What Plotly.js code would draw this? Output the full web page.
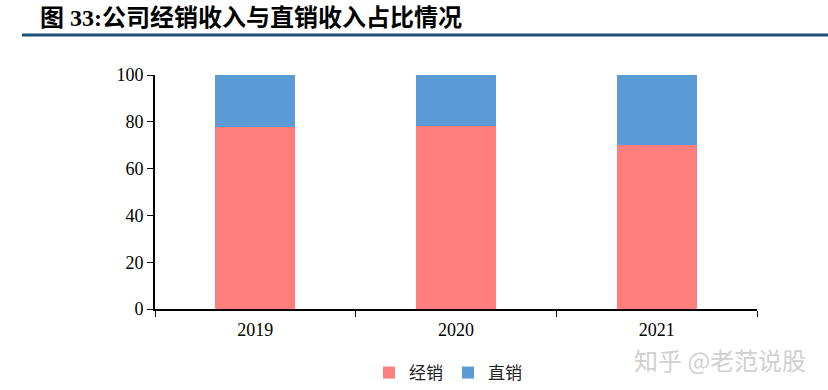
<!DOCTYPE html>
<html><head><meta charset="utf-8">
<script src="https://cdn.plot.ly/plotly-3.0.1.min.js"></script>
<style>body{margin:0;background:#fff}#c{width:828px;height:390px}</style>
</head><body><div id="c"></div>
<script>
const years = ['2019', '2020', '2021'];
const distributor = [77.7, 78.0, 70.0];
const direct = [22.3, 22.0, 30.0];
const seriesNames = ['经销', '直销'];
const yTicks = [0, 20, 40, 60, 80, 100];

const L = 155, R = 757, T = 75, B = 309;
const px = x => (x - L) / (R - L);
const py = y => (B - y) / (B - T);

const traces = [
  {type: 'bar', x: years, y: distributor, name: seriesNames[0], marker: {color: '#FF7F7F'}},
  {type: 'bar', x: years, y: direct, name: seriesNames[1], marker: {color: '#5B9BD5'}}
];
const layout = {
  width: 828, height: 390,
  margin: {l: L, r: 828 - R, t: T, b: 390 - B, autoexpand: false},
  barmode: 'stack', bargap: 0.6,
  paper_bgcolor: '#fff', plot_bgcolor: '#fff',
  font: {family: 'Liberation Serif, Noto Sans CJK SC', color: '#000', size: 17},
  title: {text: '<b>图 33:公司经销收入与直销收入占比情况</b>', xref: 'container', yref: 'container',
          x: 40/828, xanchor: 'left', y: 1 - 18/390, yanchor: 'middle',
          font: {family: 'Liberation Serif, Noto Sans CJK SC', size: 24, color: '#000'}},
  xaxis: {type: 'category', tickson: 'boundaries', ticks: 'outside', ticklen: 6, tickcolor: '#000',
          showline: true, linecolor: '#000', linewidth: 2, showgrid: false, zeroline: false,
          ticklabelstandoff: 3, tickfont: {family: 'Liberation Serif', size: 18}},
  yaxis: {range: [0, 100], tickvals: yTicks, ticks: 'outside', ticklen: 6, tickcolor: '#000',
          showline: true, linecolor: '#000', linewidth: 2, showgrid: false, zeroline: false,
          tickfont: {family: 'Liberation Serif', size: 18}},
  showlegend: true,
  legend: {orientation: 'h', x: px(448), xanchor: 'center', xref: 'paper', yref: 'container', y: 1 - 373/390, yanchor: 'middle',
           font: {family: 'Noto Sans CJK SC', size: 17, color: '#222'}, itemwidth: 30, traceorder: 'normal'},
  shapes: [{type: 'line', xref: 'paper', yref: 'paper', x0: px(22), x1: px(828), y0: py(35), y1: py(35),
            line: {color: '#1F4E79', width: 3}}],
  annotations: [{text: '知乎 @老范说股', xref: 'paper', yref: 'paper', x: px(808), y: py(359),
                 xanchor: 'right', yanchor: 'middle', showarrow: false,
                 font: {family: 'Noto Sans CJK SC', size: 24, color: '#d0d0d0'}}]
};
Plotly.newPlot('c', traces, layout, {staticPlot: true});
</script></body></html>
